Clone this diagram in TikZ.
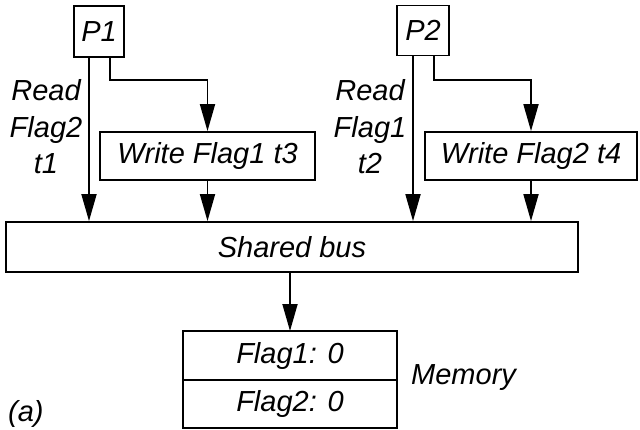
\documentclass[tikz,border=0pt]{standalone}
\usepackage{fontspec}
\setmainfont{Liberation Sans}
\usetikzlibrary{arrows.meta}
\begin{document}
\begin{tikzpicture}[x=1pt,y=-1pt,
  every node/.style={font=\fontsize{29}{36.5}\selectfont\itshape, inner sep=0pt},
  box/.style={draw, line width=1.8pt, rectangle},
  cell/.style={box, minimum width=214pt, outer sep=0pt},
  arr/.style={line width=1.8pt, -{Triangle[length=27pt,width=15pt]}},
  lbl/.style={align=center}]
\useasboundingbox (0,0) rectangle (640,429);
% processors
\node[box, minimum width=50pt, minimum height=51pt] (P1) at (99,31.5) {P1};
\node[box, minimum width=52pt, minimum height=50pt] (P2) at (423,30.5) {P2};
% write boxes
\node[box, minimum width=215pt, minimum height=48pt] (w1) at (207.5,156) {Write Flag1 t3};
\node[box, minimum width=212pt, minimum height=48pt] (w2) at (531,156) {Write Flag2 t4};
% bus
\node[box, minimum width=572pt, minimum height=50pt] (bus) at (292,247) {Shared bus};
% memory
\node[cell, minimum height=49pt] (m1) at (290,355.5) {Flag1: 0};
\node[cell, minimum height=48pt, anchor=north] (m2) at (m1.south) {Flag2: 0};
\node[anchor=west] (mem) at (411,378) {Memory};
% labels
\node[lbl] (l1) at (46,127) {Read\\Flag2\\t1};
\node[lbl] (l2) at (370,127) {Read\\Flag1\\t2};
\node[anchor=base west] (a) at (8,421) {(a)};
% connector coordinates
\coordinate (a1) at (89,0);
\coordinate (k1) at (110,80);
\coordinate (a2) at (413,0);
\coordinate (k2) at (434,80);
% connectors
\draw[arr] (P1.south -| a1) -- (bus.north -| a1);
\draw[arr] (P1.south -| k1) -- (k1) -| (w1.north);
\draw[arr] (w1.south) -- (bus.north -| w1.south);
\draw[arr] (P2.south -| a2) -- (bus.north -| a2);
\draw[arr] (P2.south -| k2) -- (k2) -| (w2.north);
\draw[arr] (w2.south) -- (bus.north -| w2.south);
\draw[arr] (bus.south -| m1.north) -- (m1.north);
\end{tikzpicture}
\end{document}
